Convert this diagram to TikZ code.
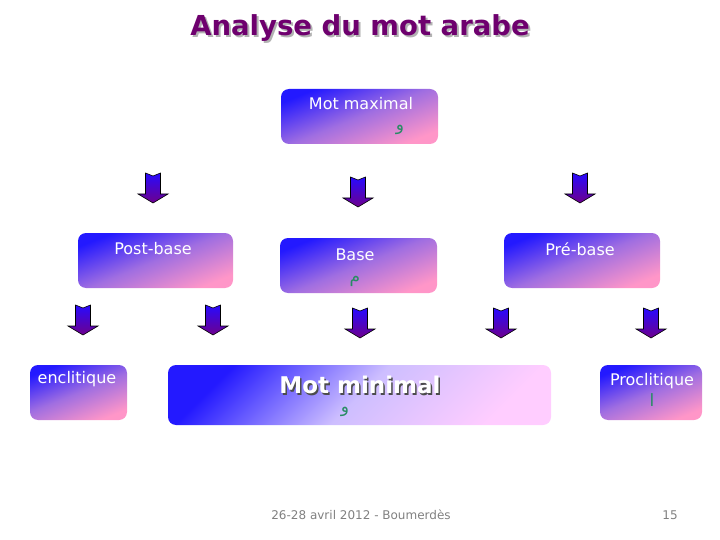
\documentclass[tikz,border=0pt]{standalone}
\usepackage{fontspec}
\setmainfont{DejaVu Sans}
\newfontfamily\arabicfont[Script=Arabic]{DejaVu Sans}
\TeXXeTstate=1
\usepackage{tikz}
\usetikzlibrary{arrows.meta, positioning, calc}
\definecolor{titlecolor}{RGB}{110,0,110}
\definecolor{boxblue}{RGB}{35,25,255}
\definecolor{boxmid}{RGB}{160,110,225}
\definecolor{boxpink}{RGB}{255,150,200}
\definecolor{minlight}{RGB}{205,190,255}
\definecolor{minpink}{RGB}{255,205,255}
\definecolor{arrowtop}{RGB}{40,10,255}
\definecolor{arrowbot}{RGB}{110,0,140}
\definecolor{arabgreen}{RGB}{40,140,100}

\begin{document}
\begin{tikzpicture}[
    x=1pt, y=-1pt,
    block/.style={rounded corners=8pt, inner sep=0pt, top color=boxblue, bottom color=boxpink, middle color=boxmid, shading angle=22},
    bigblock/.style={rounded corners=8pt, inner sep=0pt, top color=boxblue, bottom color=minpink, middle color=minlight, shading angle=45},
    label/.style={text=white, font=\fontsize{16}{18}\selectfont, inner sep=0pt},
    arab/.style={text=arabgreen, font=\arabicfont\fontsize{17}{19}\selectfont, inner sep=0pt},
    foot/.style={text=gray, font=\fontsize{12}{14}\selectfont, inner sep=0pt},
    flow/.pic={
        \shade[top color=arrowtop, bottom color=arrowbot, draw=black, line width=0.6pt]
            (-7.5,0) -- (0,3) -- (7.5,0) -- (7.5,21) -- (15,21) -- (0,30)
            -- (-15,21) -- (-7.5,21) -- cycle;
    }
]
    \useasboundingbox (0,0) rectangle (720,540);

    % Title
    \node[text=gray!60, font=\bfseries\fontsize{27.5}{30}\selectfont] at (362,30) {Analyse du mot arabe};
    \node[text=titlecolor, font=\bfseries\fontsize{27.5}{30}\selectfont] (title) at (360,28) {Analyse du mot arabe};

    % Blocks
    \node[block, minimum width=157pt, minimum height=55pt] (maximal) at (359.5,116.5) {};
    \node[block, minimum width=155pt, minimum height=55pt] (postbase) at (155.5,260.5) {};
    \node[block, minimum width=157pt, minimum height=55pt] (base) at (358.5,265.5) {};
    \node[block, minimum width=156pt, minimum height=55pt] (prebase) at (582,260.5) {};
    \node[block, minimum width=97pt, minimum height=55pt] (enclitic) at (78.5,392.5) {};
    \node[bigblock, minimum width=383pt, minimum height=60pt] (minimal) at (359.5,395) {};
    \node[block, minimum width=102pt, minimum height=55pt] (proclitic) at (651,392.5) {};

    % Texts in the blocks
    \node[label] (maxtext) at (361,104) {Mot maximal};
    \node[arab] (maxarab) at (400,130) {\beginR و\endR};
    \node[label] (posttext) at (153,249) {Post-base};
    \node[label] (basetext) at (355,255) {Base};
    \node[arab] (basearab) at (355,281) {\beginR م\endR};
    \node[label] (pretext) at (580,249) {Pré-base};
    \node[label] (enctext) at (77,379) {enclitique};
    \node[text=black!70, font=\bfseries\fontsize{23}{26}\selectfont, inner sep=0pt] at (361.5,386.5) {Mot minimal};
    \node[text=white, font=\bfseries\fontsize{23}{26}\selectfont, inner sep=0pt] (mintext) at (360,385) {Mot minimal};
    \node[arab] (minarab) at (345,412) {\beginR و\endR};
    \node[label] (protext) at (652,381) {Proclitique};
    \node[arab] (proarab) at (652,400) {\beginR ا\endR};

    % Arrows
    \pic (a1) at (153,173) {flow};
    \pic (a2) at (358,177) {flow};
    \pic (a3) at (580,173) {flow};
    \pic (b1) at (83,305) {flow};
    \pic (b2) at (213,305) {flow};
    \pic (b3) at (360,308) {flow};
    \pic (b4) at (501,308) {flow};
    \pic (b5) at (651,308) {flow};

    % Footer
    \node[foot] (date) at (361,515) {26-28 avril 2012 - Boumerdès};
    \node[foot] (page) at (670,515) {15};
\end{tikzpicture}
\end{document}
